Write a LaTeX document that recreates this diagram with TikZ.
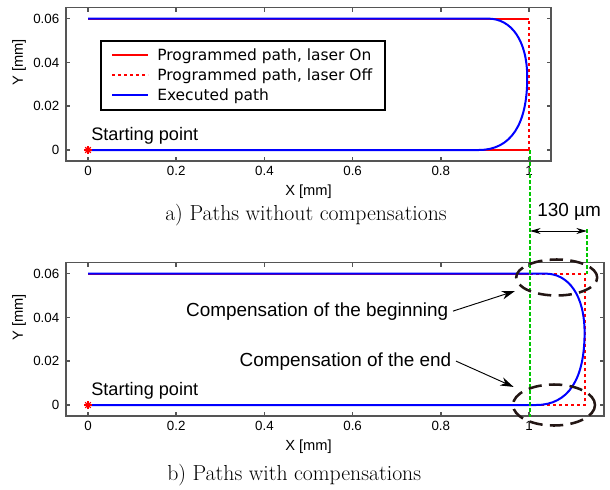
\documentclass[tikz,border=0pt]{standalone}
\usepackage{fontspec}
\setsansfont{Liberation Sans}
\newfontfamily\legendfont{DejaVu Sans}
\usetikzlibrary{arrows.meta, shapes.geometric}
\definecolor{axisgray}{RGB}{85,85,85}
\definecolor{markgreen}{RGB}{0,200,0}
\definecolor{ringdark}{RGB}{35,22,20}
\tikzset{
	startmark/.pic = {
		\draw [red, line width=0.8pt] (-3pt, 0) -- (3pt, 0);
		\draw [red, line width=0.8pt] (0, -3pt) -- (0, 3pt);
		\draw [red, line width=0.8pt] (-2.1pt, -2.1pt) -- (2.1pt, 2.1pt);
		\draw [red, line width=0.8pt] (-2.1pt, 2.1pt) -- (2.1pt, -2.1pt);
	},
	axisbox/.style = {draw=axisgray, line width=1.1pt},
	progon/.style = {red, line width=1.5pt},
	progoff/.style = {red, line width=1.5pt, dash pattern=on 2.5pt off 2pt},
	execpath/.style = {blue, line width=1.5pt},
	ticklabel/.style = {font=\sffamily\fontsize{10}{12}\selectfont, inner sep=0pt},
	axislabel/.style = {font=\sffamily\fontsize{11}{13}\selectfont, inner sep=0pt},
	startlabel/.style = {font=\sffamily\fontsize{13.6}{16}\selectfont, inner sep=0pt, anchor=base west},
	legendtext/.style = {font=\legendfont\fontsize{11.6}{14}\selectfont, inner sep=0pt, anchor=base west},
	annot/.style = {font=\sffamily\fontsize{14.2}{17}\selectfont},
	figcaption/.style = {font=\fontsize{16.3}{19}\selectfont, inner sep=0pt, anchor=base west},
	greenline/.style = {markgreen, line width=1.5pt, dash pattern=on 3pt off 1.5pt},
	ring/.style = {ellipse, draw=ringdark, line width=1.9pt, dash pattern=on 10pt off 5.5pt, inner sep=0pt},
	annarrow/.style = {-{Stealth[length=10pt, width=6.5pt]}, line width=0.7pt},
	dimarrow/.style = {{Stealth[length=8pt, width=4.5pt]}-{Stealth[length=8pt, width=4.5pt]}, line width=0.7pt}
}

\begin{document}
\begin{tikzpicture}[x=0.75pt, y=-0.75pt]
	\useasboundingbox (0, 0) rectangle (610, 489);
	% a) without compensations
	\begin{scope}[shift={(88, 150)}, x=330.75pt, y=1642.5pt]
		\def\xmax{1.05}
		\foreach [count=\i] \xt in {0,0.2,0.4,0.6,0.8,1}
		{
			\draw [axisbox] (\xt, -0.005) -- ++(0, 3pt);
			\draw [axisbox] (\xt, 0.065) -- ++(0, -3pt);
			\node [ticklabel, anchor=north, yshift=-3.7pt] (xa\i) at (\xt, -0.005) {\xt};
		}
		\foreach [count=\j] \yt in {0,0.02,0.04,0.06}
		{
			\draw [axisbox] (-0.05, \yt) -- ++(3pt, 0);
			\draw [axisbox] (\xmax, \yt) -- ++(-3pt, 0);
			\node [ticklabel, anchor=east, xshift=-4.8pt] (ya\j) at (-0.05, \yt) {\yt};
		}
		\draw [axisbox] (-0.05, -0.005) rectangle (\xmax, 0.065);
		\node [axislabel] (xlabA) at (0.5, -0.019) {X [mm]};
		\node [axislabel, rotate=90] (ylabA) at (-0.156, 0.04) {Y [mm]};
		\draw [progon] (0, 0) -- (1, 0);
		\draw [progoff] (1, 0) -- (1, 0.06);
		\draw [progon] (1, 0.06) -- (0, 0.06);
		\draw [execpath] (0, 0) -- (0.886, 0)
			.. controls (0.96, 0) and (0.996, 0.012) .. (0.996, 0.033)
			.. controls (0.996, 0.05) and (0.96, 0.06) .. (0.907, 0.06) -- (0, 0.06);
		\pic at (0, 0) {startmark};
		\node [startlabel] (startA) at (0.007, 0.0042) {Starting point};
	\end{scope}
	\draw [black, line width=1.1pt, fill=white] (101, 41) rectangle (385, 110);
	\draw [progon] (112, 55) -- ++(36, 0);
	\draw [progoff] (112, 74.5) -- ++(36, 0);
	\draw [execpath] (112, 95) -- ++(36, 0);
	\node [legendtext] (legOn) at (157, 60.7) {Programmed path, laser On};
	\node [legendtext] (legOff) at (157, 80) {Programmed path, laser Off};
	\node [legendtext] (legExec) at (157, 100) {Executed path};
	\node [figcaption] (capA) at (165, 220) {a) Paths without compensations};
	% b) with compensations
	\begin{scope}[shift={(88, 405)}, x=330.75pt, y=1642.5pt]
		\def\xmax{1.17}
		\foreach [count=\i] \xt in {0,0.2,0.4,0.6,0.8,1}
		{
			\draw [axisbox] (\xt, -0.005) -- ++(0, 3pt);
			\draw [axisbox] (\xt, 0.065) -- ++(0, -3pt);
			\node [ticklabel, anchor=north, yshift=-3.7pt] (xb\i) at (\xt, -0.005) {\xt};
		}
		\foreach [count=\j] \yt in {0,0.02,0.04,0.06}
		{
			\draw [axisbox] (-0.05, \yt) -- ++(3pt, 0);
			\draw [axisbox] (\xmax, \yt) -- ++(-3pt, 0);
			\node [ticklabel, anchor=east, xshift=-4.8pt] (yb\j) at (-0.05, \yt) {\yt};
		}
		\draw [axisbox] (-0.05, -0.005) rectangle (\xmax, 0.065);
		\node [axislabel] (xlabB) at (0.5, -0.019) {X [mm]};
		\node [axislabel, rotate=90] (ylabB) at (-0.156, 0.04) {Y [mm]};
		\draw [progon] (0, 0) -- (1, 0);
		\draw [progoff] (1, 0) -- (1.128, 0) -- (1.128, 0.06) -- (1, 0.06);
		\draw [progon] (1, 0.06) -- (0, 0.06);
		\draw [execpath] (0, 0) -- (1.016, 0)
			.. controls (1.09, 0) and (1.126, 0.012) .. (1.126, 0.033)
			.. controls (1.126, 0.05) and (1.09, 0.06) .. (1.037, 0.06) -- (0, 0.06);
		\pic at (0, 0) {startmark};
		\node [startlabel] (startB) at (0.007, 0.0042) {Starting point};
	\end{scope}
	\node [figcaption] (capB) at (167, 480) {b) Paths with compensations};
	% offset between the two ends
	\coordinate (gTop) at (530, 150);
	\coordinate (gBot) at (530, 417);
	\coordinate (gL) at (530, 231);
	\coordinate (gR) at (587, 231);
	\coordinate (gRTop) at (587, 229);
	\coordinate (gRBot) at (587, 274);
	\draw [greenline] (gTop) -- (gBot);
	\draw [greenline] (gRTop) -- (gRBot);
	\draw [dimarrow] (gL) -- (gR);
	\node [annot, anchor=base west, inner sep=0pt] (dimtext) at (537, 216.7) {130 µm};
	\node [ring, minimum width=60.75pt, minimum height=27pt] (ringBegin) at (556.7, 277.5) {};
	\node [ring, minimum width=61.5pt, minimum height=30.75pt] (ringEnd) at (554, 405) {};
	\node [annot, anchor=base east] (txtBegin) at (453, 316) {Compensation of the beginning};
	\node [annot, anchor=base east] (txtEnd) at (456, 366) {Compensation of the end};
	\draw [annarrow, shorten >=6pt] (txtBegin.east) -- (ringBegin);
	\draw [annarrow, shorten >=7pt] (txtEnd.east) -- (ringEnd);
\end{tikzpicture}
\end{document}
